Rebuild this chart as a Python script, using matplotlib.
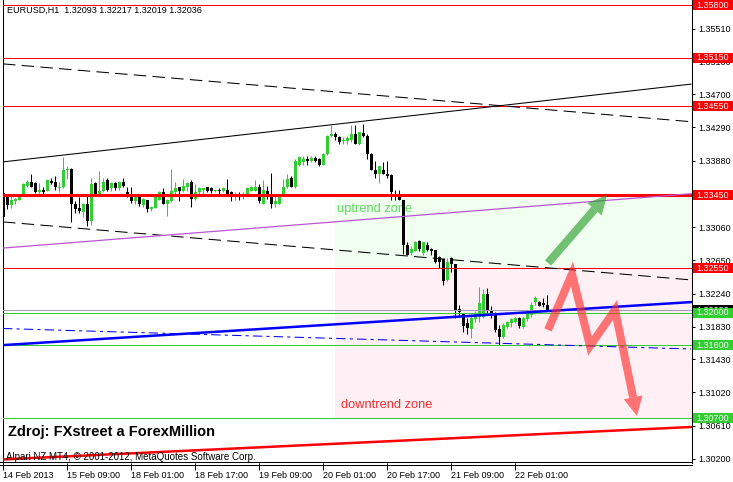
"""
EURUSD H1 chart with support / resistance levels and trend zones (MT4 style)
"""
import numpy as np
import matplotlib.pyplot as plt
from matplotlib.patches import Rectangle, Polygon
from matplotlib.lines import Line2D
from matplotlib.transforms import blended_transform_factory

plt.rcParams['font.family'] = ['Liberation Sans', 'DejaVu Sans']

# hourly candles, 14 Feb 2013 17:00 .. 22 Feb 2013 08:00
opens = [1.3348, 1.3343, 1.3333, 1.3338, 1.3340, 1.3346, 1.3357, 1.3362, 1.3360, 1.3349,
         1.3352, 1.3351, 1.3362, 1.3362, 1.3354, 1.3355, 1.3377, 1.3378, 1.3334, 1.3330,
         1.3325, 1.3334, 1.3314, 1.3361, 1.3346, 1.3350, 1.3364, 1.3354, 1.3361, 1.3354,
         1.3362, 1.3349, 1.3345, 1.3338, 1.3343, 1.3333, 1.3339, 1.3328, 1.3330, 1.3340,
         1.3349, 1.3335, 1.3338, 1.3349, 1.3355, 1.3350, 1.3356, 1.3362, 1.3341, 1.3349,
         1.3352, 1.3355, 1.3354, 1.3350, 1.3352, 1.3350, 1.3352, 1.3349, 1.3344, 1.3347,
         1.3343, 1.3346, 1.3351, 1.3351, 1.3356, 1.3335, 1.3351, 1.3344, 1.3335, 1.3335,
         1.3345, 1.3355, 1.3367, 1.3355, 1.3383, 1.3386, 1.3390, 1.3388, 1.3391, 1.3390,
         1.3383, 1.3396, 1.3418, 1.3421, 1.3417, 1.3412, 1.3412, 1.3413, 1.3421, 1.3408,
         1.3422, 1.3419, 1.3396, 1.3376, 1.3371, 1.3377, 1.3371, 1.3370, 1.3346, 1.3346,
         1.3339, 1.3284, 1.3274, 1.3277, 1.3289, 1.3274, 1.3284, 1.3279, 1.3278, 1.3269,
         1.3266, 1.3241, 1.3268, 1.3260, 1.3205, 1.3199, 1.3188, 1.3180, 1.3192, 1.3195,
         1.3195, 1.3223, 1.3204, 1.3198, 1.3180, 1.3170, 1.3183, 1.3188, 1.3189, 1.3194,
         1.3183, 1.3192, 1.3198, 1.3213, 1.3213, 1.3212, 1.32093]
highs = [1.3350, 1.3344, 1.3344, 1.3342, 1.3345, 1.3360, 1.3364, 1.3371, 1.3362, 1.3360,
         1.3355, 1.3365, 1.3367, 1.3369, 1.3362, 1.3393, 1.3381, 1.3379, 1.3338, 1.3343,
         1.3336, 1.3346, 1.3367, 1.3362, 1.3375, 1.3366, 1.3366, 1.3362, 1.3362, 1.3363,
         1.3367, 1.3355, 1.3356, 1.3345, 1.3346, 1.3342, 1.3340, 1.3332, 1.3344, 1.3350,
         1.3354, 1.3341, 1.3378, 1.3362, 1.3356, 1.3365, 1.3362, 1.3364, 1.3359, 1.3355,
         1.3354, 1.3356, 1.3355, 1.3352, 1.3354, 1.3356, 1.3365, 1.3350, 1.3349, 1.3349,
         1.3349, 1.3355, 1.3357, 1.3364, 1.3359, 1.3364, 1.3357, 1.3373, 1.3346, 1.3346,
         1.3365, 1.3371, 1.3369, 1.3390, 1.3394, 1.3394, 1.3394, 1.3394, 1.3394, 1.3391,
         1.3398, 1.3420, 1.3432, 1.3423, 1.3419, 1.3417, 1.3419, 1.3432, 1.3432, 1.3423,
         1.3433, 1.3421, 1.3397, 1.3388, 1.3382, 1.3386, 1.3388, 1.3371, 1.3352, 1.3352,
         1.3340, 1.3287, 1.3283, 1.3289, 1.3290, 1.3288, 1.3287, 1.3280, 1.3278, 1.3270,
         1.3267, 1.3268, 1.3269, 1.3261, 1.3210, 1.3200, 1.3194, 1.3197, 1.3203, 1.3232,
         1.3229, 1.3231, 1.3209, 1.3201, 1.3185, 1.3188, 1.3190, 1.3194, 1.3195, 1.3195,
         1.3195, 1.3204, 1.3213, 1.3221, 1.3215, 1.3218, 1.32217]
lows = [1.3316, 1.3328, 1.3330, 1.3335, 1.3339, 1.3345, 1.3356, 1.3355, 1.3348, 1.3347,
        1.3346, 1.3350, 1.3359, 1.3352, 1.3349, 1.3354, 1.3365, 1.3312, 1.3324, 1.3324,
        1.3319, 1.3307, 1.3309, 1.3344, 1.3344, 1.3349, 1.3350, 1.3350, 1.3352, 1.3352,
        1.3356, 1.3343, 1.3336, 1.3335, 1.3332, 1.3331, 1.3325, 1.3326, 1.3329, 1.3339,
        1.3335, 1.3320, 1.3337, 1.3346, 1.3338, 1.3349, 1.3350, 1.3331, 1.3340, 1.3346,
        1.3346, 1.3349, 1.3348, 1.3349, 1.3347, 1.3349, 1.3344, 1.3338, 1.3340, 1.3340,
        1.3341, 1.3345, 1.3350, 1.3350, 1.3336, 1.3334, 1.3341, 1.3330, 1.3331, 1.3334,
        1.3344, 1.3354, 1.3355, 1.3354, 1.3382, 1.3383, 1.3383, 1.3386, 1.3386, 1.3381,
        1.3383, 1.3395, 1.3417, 1.3413, 1.3408, 1.3408, 1.3408, 1.3411, 1.3408, 1.3407,
        1.3417, 1.3390, 1.3376, 1.3367, 1.3361, 1.3371, 1.3367, 1.3339, 1.3339, 1.3339,
        1.3273, 1.3271, 1.3271, 1.3276, 1.3276, 1.3272, 1.3276, 1.3272, 1.3262, 1.3256,
        1.3235, 1.3239, 1.3251, 1.3194, 1.3195, 1.3176, 1.3174, 1.3169, 1.3189, 1.3189,
        1.3194, 1.3198, 1.3194, 1.3176, 1.3161, 1.3169, 1.3181, 1.3183, 1.3188, 1.3181,
        1.3182, 1.3190, 1.3195, 1.3210, 1.3208, 1.3207, 1.32019]
closes = [1.3319, 1.3333, 1.3340, 1.3341, 1.3344, 1.3359, 1.3362, 1.3356, 1.3349, 1.3352,
          1.3349, 1.3364, 1.3361, 1.3356, 1.3356, 1.3377, 1.3378, 1.3334, 1.3328, 1.3326,
          1.3334, 1.3314, 1.3359, 1.3345, 1.3350, 1.3362, 1.3352, 1.3360, 1.3354, 1.3362,
          1.3357, 1.3345, 1.3338, 1.3343, 1.3334, 1.3341, 1.3328, 1.3331, 1.3343, 1.3349,
          1.3335, 1.3340, 1.3350, 1.3354, 1.3350, 1.3357, 1.3361, 1.3341, 1.3349, 1.3354,
          1.3354, 1.3351, 1.3350, 1.3351, 1.3350, 1.3354, 1.3347, 1.3344, 1.3346, 1.3343,
          1.3347, 1.3354, 1.3355, 1.3356, 1.3338, 1.3352, 1.3343, 1.3335, 1.3338, 1.3345,
          1.3355, 1.3365, 1.3355, 1.3388, 1.3392, 1.3390, 1.3387, 1.3391, 1.3387, 1.3383,
          1.3396, 1.3419, 1.3421, 1.3417, 1.3411, 1.3414, 1.3416, 1.3421, 1.3408, 1.3423,
          1.3418, 1.3396, 1.3376, 1.3371, 1.3382, 1.3371, 1.3369, 1.3349, 1.3343, 1.3339,
          1.3284, 1.3272, 1.3279, 1.3288, 1.3279, 1.3287, 1.3278, 1.3276, 1.3263, 1.3263,
          1.3239, 1.3263, 1.3260, 1.3202, 1.3201, 1.3184, 1.3181, 1.3194, 1.3199, 1.3212,
          1.3223, 1.3202, 1.3198, 1.3179, 1.3170, 1.3185, 1.3189, 1.3192, 1.3194, 1.3184,
          1.3194, 1.3203, 1.3210, 1.3219, 1.3209, 1.3210, 1.32036]

tick_bars = [0, 16, 32, 48, 64, 80, 96, 112, 128]
tick_dates = ['14 Feb 2013', '15 Feb 09:00', '18 Feb 01:00', '18 Feb 17:00', '19 Feb 09:00',
              '20 Feb 01:00', '20 Feb 17:00', '21 Feb 09:00', '22 Feb 01:00']
price_ticks = [1.30200, 1.30610, 1.31020, 1.31430, 1.31830, 1.32240, 1.32650, 1.33060,
               1.33470, 1.33880, 1.34290, 1.34700, 1.35100, 1.35510]
hidden_ticks = [1.33470]   # fully covered by the 1.33450 label in MT4

# horizontal levels
red_levels = [1.3580, 1.3515, 1.3455, 1.3345, 1.3255]
red_widths = [0.75, 0.75, 0.75, 2.2, 0.75]
green_levels = [1.3200, 1.3160, 1.3070]
bid = 1.32036

# trendlines: price at bar 0 and at bar 172
line_bars = [0, 172]
upper_solid = [1.33865, 1.34825]
upper_dash = [1.35075, 1.34361]
lower_dash = [1.33124, 1.32408]
purple_line = [1.32801, 1.33472]
blue_line = [1.31603, 1.32134]
blue_dashdot = [1.31808, 1.31555]
red_bottom = [1.30192, 1.30592]

# zones
zone_start = 83
up_zone = (1.3255, 1.3345)
down_zone = (1.3070, 1.3255)

# hand drawn arrows
green_arrow_x = [136.25, 151.0]
green_arrow_y = [1.32617, 1.33456]
red_arrow_x = [136.25, 142.25, 146.75, 153.0, 158.5]
red_arrow_y = [1.31790, 1.32481, 1.31592, 1.32036, 1.30728]

W, H = 733, 482
fig = plt.figure(figsize=(W / 100, H / 100), dpi=100)
ax = fig.add_axes([3 / W, 19 / H, 689 / W, 463 / H])
ax.set_xlim(0, 172.25)
ax.set_ylim(1.301475, 1.358636)

# zones
ax.add_patch(Rectangle((zone_start, up_zone[0]), 200, up_zone[1] - up_zone[0],
                       facecolor='#f0fff0', edgecolor='none', zorder=0.5))
ax.add_patch(Rectangle((zone_start, down_zone[0]), 200, down_zone[1] - down_zone[0],
                       facecolor='#fff0f5', edgecolor='none', zorder=0.5))
ax.text(83.5, 1.33287, 'uptrend zone', color='#62d862', fontsize=9.3,
        va='center', ha='left', zorder=2)
ax.text(84.5, 1.30864, 'downtrend zone', color='#f03030', fontsize=9.3,
        va='center', ha='left', zorder=2)

# levels
for lev, lw in zip(red_levels, red_widths):
    ax.axhline(lev, color='red', lw=lw, zorder=4)
for lev in green_levels:
    ax.axhline(lev, color='#32cd32', lw=0.75, zorder=4)
ax.axhline(bid, color='#a0a0b4', lw=0.75, zorder=4)

# candles
o, h, l, c = map(np.array, (opens, highs, lows, closes))
x = np.arange(len(o))
col = np.where(c >= o, '#32cd32', 'black')
ax.vlines(x, l, h, colors=col, lw=0.75, zorder=3)
ax.bar(x, np.maximum(np.abs(c - o), 0.00013), bottom=np.minimum(o, c), width=0.75,
       color=col, linewidth=0, zorder=3)

# trendlines
ax.plot(line_bars, upper_solid, color='black', lw=0.75, zorder=4)
ax.plot(line_bars, upper_dash, color='black', lw=0.75, ls=(0, (12, 6)), zorder=4)
ax.plot(line_bars, lower_dash, color='black', lw=0.75, ls=(0, (12, 6)), zorder=4)
ax.plot(line_bars, purple_line, color='#ba55d3', lw=0.9, zorder=4)
ax.plot(line_bars, blue_line, color='#0000ff', lw=1.8, zorder=4)
ax.plot(line_bars, blue_dashdot, color='#0000ff', lw=0.75, ls=(0, (9, 4, 3, 4)), zorder=4)
ax.plot(line_bars, red_bottom, color='red', lw=1.8, zorder=4)


def draw_arrow(xs, ys, color, alpha):
    pts = ax.transData.transform(np.column_stack([xs, ys]))
    tip, prev = pts[-1], pts[-2]
    d = (tip - prev) / np.hypot(*(tip - prev))
    n = np.array([-d[1], d[0]])
    base = tip - d * 19
    inv = ax.transData.inverted()
    sx, sy = inv.transform(np.vstack([pts[:-1], base])).T
    ax.plot(sx, sy, color=color, alpha=alpha, lw=5.8, solid_capstyle='butt',
            solid_joinstyle='miter', zorder=6)
    head = inv.transform(np.array([tip, base + n * 9.5, base - n * 9.5]))
    ax.add_patch(Polygon(head, closed=True, facecolor=color, edgecolor='none',
                         alpha=alpha, zorder=6))


draw_arrow(green_arrow_x, green_arrow_y, '#2e9e2e', 0.65)
draw_arrow(red_arrow_x, red_arrow_y, '#ff3030', 0.65)

# axes look
for side in ('top', 'bottom'):
    ax.spines[side].set_visible(False)
for side in ('left', 'right'):
    ax.spines[side].set_linewidth(0.75)
for yy in (461.5, 464.5):
    fig.add_artist(Line2D([0, 692 / W], [1 - yy / H] * 2, color='black', lw=0.75))

ax.yaxis.tick_right()
ax.set_yticks(price_ticks)
ax.set_yticklabels(['' if p in hidden_ticks else '%.5f' % p for p in price_ticks])
ax.tick_params(axis='y', direction='out', length=2.5, width=0.75, pad=2, labelsize=6.5)
ax.set_xticks(tick_bars)
ax.set_xticklabels(tick_dates, ha='left')
ax.tick_params(axis='x', direction='out', length=5, width=0.75, pad=0.5, labelsize=6.5)

# price labels on the right axis
tr = blended_transform_factory(ax.transAxes, ax.transData)
box_h = 10 / 8100


def price_box(p, face, z):
    ax.add_patch(Rectangle((1.0015, p - box_h / 2), 0.06, box_h, transform=tr,
                           facecolor=face, edgecolor='none', clip_on=False, zorder=z))
    ax.text(1.0068, p, '%.5f' % p, transform=tr, color='white', fontsize=6.5,
            va='center', ha='left', clip_on=False, zorder=z + 0.5)


price_box(bid, 'black', 10)
for lev in red_levels:
    price_box(lev, 'red', 12)
for lev in green_levels:
    price_box(lev, '#32cd32', 12)

fig.text(7 / W, 1 - 10 / H, 'EURUSD,H1  1.32093 1.32217 1.32019 1.32036',
         fontsize=6.5, va='center', ha='left')
fig.text(8 / W, 1 - 432 / H, 'Zdroj: FXstreet a ForexMillion', fontsize=10.5,
         fontweight='bold', va='center', ha='left')
fig.text(6 / W, 1 - 456.5 / H, 'Alpari NZ MT4, \u00a9 2001-2012, MetaQuotes Software Corp.',
         fontsize=7, va='center', ha='left')

fig.savefig('out.png', dpi=100)
